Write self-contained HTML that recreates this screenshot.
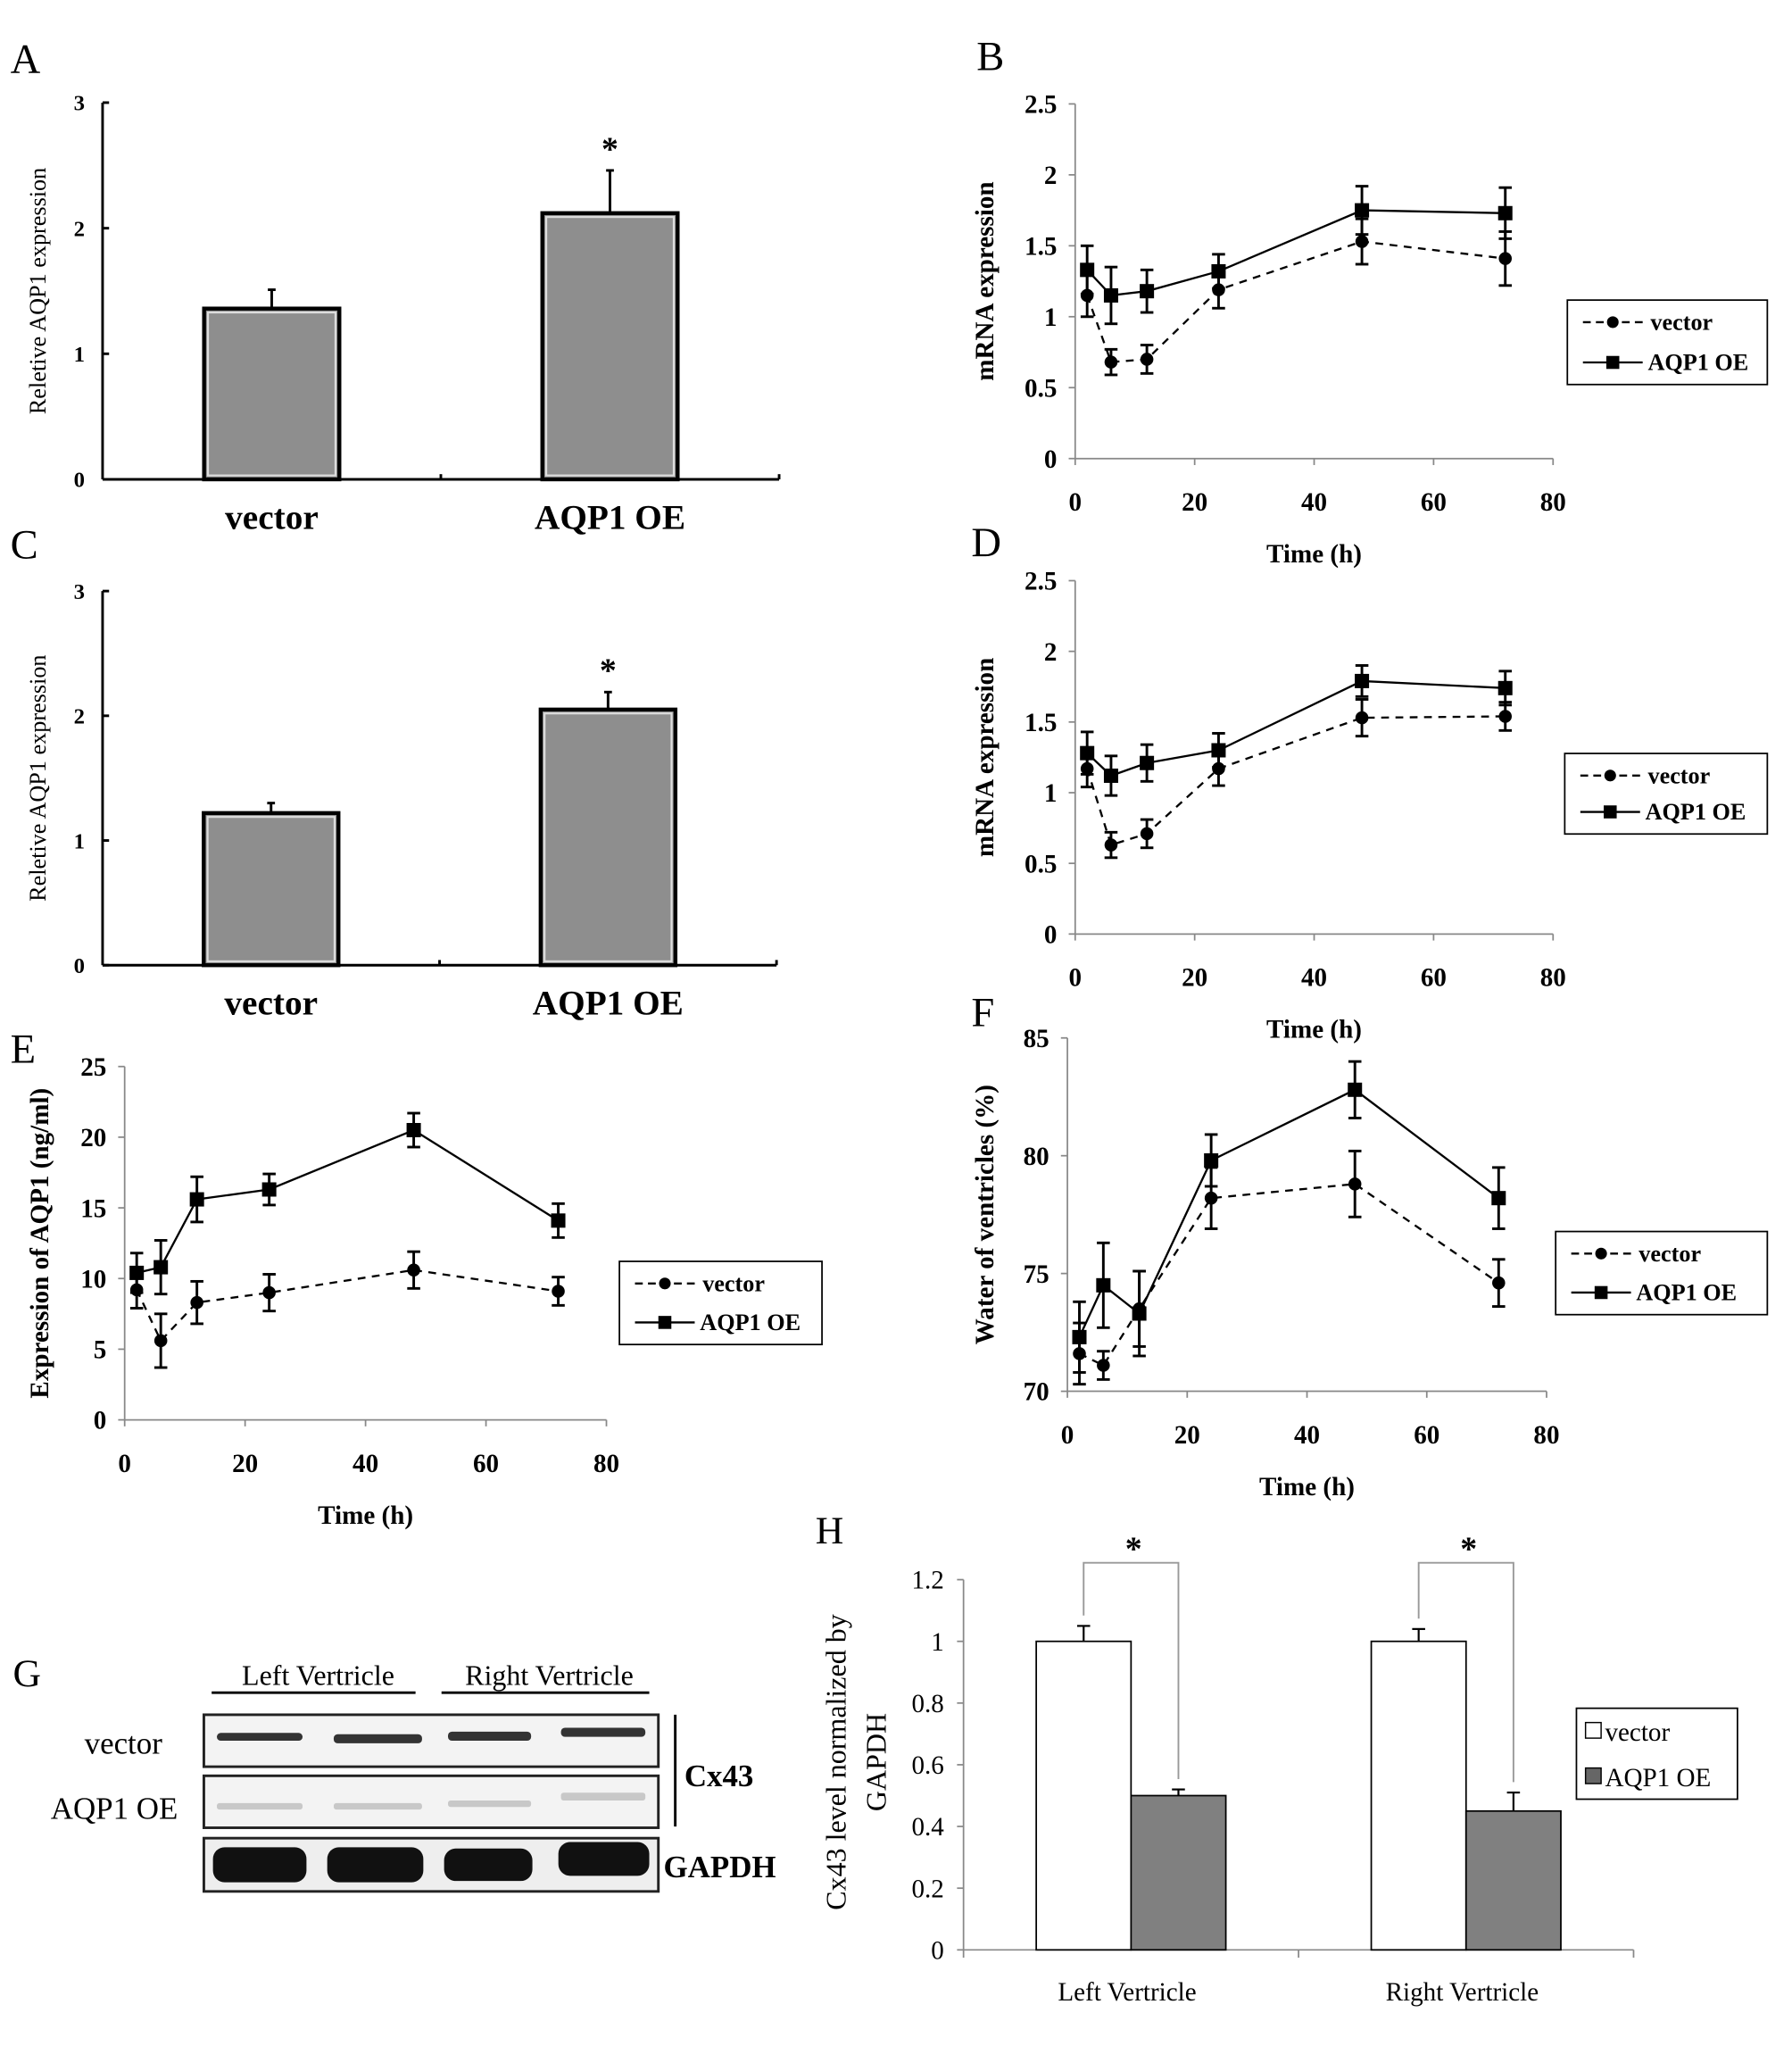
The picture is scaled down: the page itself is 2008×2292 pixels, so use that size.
<!DOCTYPE html>
<html><head><meta charset="utf-8"><style>
html,body{margin:0;padding:0;background:#fff;}
svg{display:block;font-family:"Liberation Serif",serif;}
</style></head><body>
<svg id="fig" width="2008" height="2292" viewBox="0 0 1380 1575" preserveAspectRatio="none" xmlns="http://www.w3.org/2000/svg">
<rect width="1380" height="1575" fill="#fff"/>
<!-- Panel G western blot -->
<g>
<text x="10" y="1298" font-size="30">G</text>
<text x="245" y="1297" font-size="22" text-anchor="middle">Left Vertricle</text>
<line x1="163" y1="1303" x2="320" y2="1303" stroke="#000" stroke-width="2"/>
<text x="423" y="1297" font-size="22" text-anchor="middle">Right Vertricle</text>
<line x1="340" y1="1303" x2="500" y2="1303" stroke="#000" stroke-width="2"/>
<text x="95" y="1350" font-size="24" text-anchor="middle">vector</text>
<text x="88" y="1400" font-size="24" text-anchor="middle">AQP1 OE</text>
<rect x="157" y="1320" width="350" height="40" fill="#f3f3f3" stroke="#222" stroke-width="2"/>
<rect x="157" y="1367" width="350" height="40" fill="#f3f3f3" stroke="#222" stroke-width="2"/>
<rect x="157" y="1415" width="350" height="41" fill="#eee" stroke="#222" stroke-width="2"/>
<g fill="#333">
<rect x="167" y="1334" width="66" height="6" rx="3"/><rect x="257" y="1335" width="68" height="7" rx="3"/>
<rect x="345" y="1333" width="64" height="7" rx="3"/><rect x="432" y="1330" width="65" height="7" rx="3"/>
</g>
<g fill="#c8c8c8">
<rect x="167" y="1388" width="66" height="5" rx="2"/><rect x="257" y="1388" width="68" height="5" rx="2"/>
<rect x="345" y="1386" width="64" height="5" rx="2"/><rect x="432" y="1380" width="65" height="6" rx="2"/>
</g>
<g fill="#111">
<rect x="164" y="1422" width="72" height="27" rx="9"/><rect x="252" y="1422" width="74" height="27" rx="9"/>
<rect x="342" y="1423" width="68" height="25" rx="9"/><rect x="430" y="1418" width="70" height="26" rx="9"/>
</g>
<line x1="520" y1="1320" x2="520" y2="1406" stroke="#000" stroke-width="2"/>
<text x="527" y="1375" font-size="24" font-weight="bold">Cx43</text>
<text x="511" y="1445" font-size="24" font-weight="bold">GAPDH</text>
</g>
</svg>
<script>
const NS="http://www.w3.org/2000/svg";
const svg=document.getElementById('fig');
function el(tag,attrs,parent,text){const e=document.createElementNS(NS,tag);for(const k in attrs)e.setAttribute(k,attrs[k]);if(text!==undefined)e.textContent=text;(parent||svg).appendChild(e);return e;}

// ---- Data ----
const barCats=["vector","AQP1 OE"];
const aVals=[1.36,2.12];
const aErr=[0.15,0.34];
const cVals=[1.22,2.05];
const cErr=[0.08,0.14];
const barTicks=[0,1,2,3];

const times=[2,6,12,24,48,72];
const timeTicks=[0,20,40,60,80];
const bVector=[1.15,0.68,0.70,1.19,1.53,1.41];
const bVectorErr=[0.15,0.09,0.10,0.13,0.16,0.19];
const bAqp=[1.33,1.15,1.18,1.32,1.75,1.73];
const bAqpErr=[0.17,0.20,0.15,0.12,0.17,0.18];
const dVector=[1.17,0.63,0.71,1.17,1.53,1.54];
const dVectorErr=[0.13,0.09,0.10,0.12,0.13,0.10];
const dAqp=[1.28,1.12,1.21,1.30,1.79,1.74];
const dAqpErr=[0.15,0.14,0.13,0.12,0.11,0.12];
const mrnaTicks=[0,0.5,1,1.5,2,2.5];
const eVector=[9.2,5.6,8.3,9.0,10.6,9.1];
const eVectorErr=[1.3,1.9,1.5,1.3,1.3,1.0];
const eAqp=[10.4,10.8,15.6,16.3,20.5,14.1];
const eAqpErr=[1.4,1.9,1.6,1.1,1.2,1.2];
const eTicks=[0,5,10,15,20,25];
const fVector=[71.6,71.1,73.5,78.2,78.8,74.6];
const fVectorErr=[1.3,0.6,1.6,1.3,1.4,1.0];
const fAqp=[72.3,74.5,73.3,79.8,82.8,78.2];
const fAqpErr=[1.5,1.8,1.8,1.1,1.2,1.3];
const fTicks=[70,75,80,85];

const hGroups=["Left Vertricle","Right Vertricle"];
const hVector=[1.0,1.0];
const hVectorErr=[0.05,0.04];
const hAqp=[0.50,0.45];
const hAqpErr=[0.02,0.06];
const hTicks=[0,0.2,0.4,0.6,0.8,1,1.2];

// ---- Bar panels A & C ----
function barPanel(cfg,vals,errs){
  const g=el('g',{});
  
  
  const y=v=>cfg.y0-(v-0)/(3)*(cfg.y0-cfg.yTop);
  const t=el('text',{x:8,y:cfg.labelY,'font-size':32},g,cfg.letter);
  
  el('line',{x1:cfg.x0,y1:cfg.yTop,x2:cfg.x0,y2:cfg.y0,stroke:'#000','stroke-width':2},g);
  el('line',{x1:cfg.x0,y1:cfg.y0,x2:cfg.x1,y2:cfg.y0,stroke:'#000','stroke-width':2},g);
  const mid=(cfg.x0+cfg.x1)/2;
  el('line',{x1:mid,y1:cfg.y0,x2:mid,y2:cfg.y0-4,stroke:'#000','stroke-width':2},g);
  el('line',{x1:cfg.x1,y1:cfg.y0,x2:cfg.x1,y2:cfg.y0-4,stroke:'#000','stroke-width':2},g);
  barTicks.forEach(v=>{
    el('line',{x1:cfg.x0,y1:y(v),x2:cfg.x0+5,y2:y(v),stroke:'#000','stroke-width':2},g);
    const tl=el('text',{x:cfg.x0-18,y:y(v)+6,'font-size':17,'font-weight':'bold','text-anchor':'middle'},g,String(v));
    
  });
  const w=(cfg.x1-cfg.x0)/2;
  vals.forEach((v,i)=>{
    const cx=cfg.x0+w*(i+0.5);
    const bw=w*0.4;
    const b=el('rect',{x:cx-bw/2,y:y(v),width:bw,height:cfg.y0-y(v),fill:'#8e8e8e',stroke:'#000','stroke-width':3},g);
    
    
    el('rect',{x:cx-bw/2+3,y:y(v)+3,width:bw-6,height:cfg.y0-y(v)-6,fill:'none',stroke:'#ddd','stroke-width':1.5},g);
    el('line',{x1:cx,y1:y(v),x2:cx,y2:y(v+errs[i]),stroke:'#000','stroke-width':2},g);
    el('line',{x1:cx-3,y1:y(v+errs[i]),x2:cx+3,y2:y(v+errs[i]),stroke:'#000','stroke-width':2},g);
    const lab=el('text',{x:cx,y:cfg.y0+38,'font-size':27,'font-weight':'bold','text-anchor':'middle'},g,barCats[i]);
    
    if(i===1){const s=el('text',{x:cx,y:y(v+errs[i])-8,'font-size':26,'font-weight':'bold','text-anchor':'middle'},g,'*');
      }
  });
  const yt=el('text',{x:0,y:0,'font-size':18,'text-anchor':'middle',transform:`translate(${cfg.x0-44},${(cfg.y0+cfg.yTop)/2}) rotate(-90)`},g,'Reletive AQP1 expression');
  
}
barPanel({name:'panel-a',letter:'A',labelY:56,x0:79,x1:600,y0:369,yTop:79},aVals,aErr);
barPanel({name:'panel-c',letter:'C',labelY:430,x0:79,x1:598,y0:743,yTop:455},cVals,cErr);

// ---- Line panels ----
function linePanel(cfg){
  const g=el('g',{});
  
  
  const xs=v=>cfg.x0+v/80*(cfg.x1-cfg.x0);
  const ys=v=>cfg.y0-(v-cfg.ymin)/(cfg.ymax-cfg.ymin)*(cfg.y0-cfg.yTop);
  const L=el('text',{x:cfg.lx,y:cfg.ly,'font-size':32},g,cfg.letter);
  
  el('line',{x1:cfg.x0,y1:cfg.yTop,x2:cfg.x0,y2:cfg.y0,stroke:'#888','stroke-width':1.2},g);
  el('line',{x1:cfg.x0,y1:cfg.y0,x2:cfg.x1,y2:cfg.y0,stroke:'#888','stroke-width':1.2},g);
  cfg.yticks.forEach(v=>{
    el('line',{x1:cfg.x0-5,y1:ys(v),x2:cfg.x0,y2:ys(v),stroke:'#888','stroke-width':1.2},g);
    const t=el('text',{x:cfg.x0-14,y:ys(v)+7,'font-size':20,'font-weight':'bold','text-anchor':'end'},g,String(v));
    
  });
  timeTicks.forEach(v=>{
    el('line',{x1:xs(v),y1:cfg.y0,x2:xs(v),y2:cfg.y0+5,stroke:'#888','stroke-width':1.2},g);
    const t=el('text',{x:xs(v),y:cfg.y0+40,'font-size':20,'font-weight':'bold','text-anchor':'middle'},g,String(v));
    
  });
  const xt=el('text',{x:(cfg.x0+cfg.x1)/2,y:cfg.y0+80,'font-size':20,'font-weight':'bold','text-anchor':'middle'},g,'Time (h)');
  
  const yt=el('text',{x:0,y:0,'font-size':20,'font-weight':'bold','text-anchor':'middle',transform:`translate(${cfg.ytx},${(cfg.y0+cfg.yTop)/2}) rotate(-90)`},g,cfg.ytitle);
  
  function series(vals,errs,dash,marker,nm){
    const sg=el('g',{},g);
    
    vals.forEach((v,i)=>{
      const x=xs(times[i]);
      el('line',{x1:x,y1:ys(v-errs[i]),x2:x,y2:ys(v+errs[i]),stroke:'#000','stroke-width':2},sg);
      el('line',{x1:x-5,y1:ys(v-errs[i]),x2:x+5,y2:ys(v-errs[i]),stroke:'#000','stroke-width':2},sg);
      el('line',{x1:x-5,y1:ys(v+errs[i]),x2:x+5,y2:ys(v+errs[i]),stroke:'#000','stroke-width':2},sg);
    });
    el('polyline',{points:vals.map((v,i)=>xs(times[i])+','+ys(v)).join(' '),fill:'none',stroke:'#000','stroke-width':1.6,'stroke-dasharray':dash?'6,5':'none'},sg);
    vals.forEach((v,i)=>{
      const x=xs(times[i]),y=ys(v);
      let m;
      if(marker==='c') m=el('circle',{cx:x,cy:y,r:5,fill:'#000'},sg);
      else m=el('rect',{x:x-5.5,y:y-5.5,width:11,height:11,fill:'#000'},sg);
      
    });
  }
  series(cfg.v,cfg.ve,true,'c','series-vector');
  series(cfg.a,cfg.ae,false,'s','series-aqp1-oe');
  const lg=el('g',{},g);
  
  const [lx,ly,lw,lh]=cfg.legend;
  el('rect',{x:lx,y:ly,width:lw,height:lh,fill:'#fff',stroke:'#000','stroke-width':1.2},lg);
  el('line',{x1:lx+12,y1:ly+17,x2:lx+58,y2:ly+17,stroke:'#000','stroke-width':1.6,'stroke-dasharray':'6,4'},lg);
  el('circle',{cx:lx+35,cy:ly+17,r:4.5,fill:'#000'},lg);
  const t1=el('text',{x:lx+64,y:ly+23,'font-size':18,'font-weight':'bold'},lg,'vector');
  
  el('line',{x1:lx+12,y1:ly+lh-17,x2:lx+58,y2:ly+lh-17,stroke:'#000','stroke-width':1.6},lg);
  el('rect',{x:lx+30,y:ly+lh-22,width:10,height:10,fill:'#000'},lg);
  const t2=el('text',{x:lx+62,y:ly+lh-11,'font-size':18,'font-weight':'bold'},lg,'AQP1 OE');
  
}
linePanel({name:'panel-b',letter:'B',lx:752,ly:54,x0:828,x1:1196,y0:353,yTop:80,ymin:0,ymax:2.5,yticks:mrnaTicks,ytx:765,ytitle:'mRNA expression',v:bVector,ve:bVectorErr,a:bAqp,ae:bAqpErr,legend:[1207,231,154,65]});
linePanel({name:'panel-d',letter:'D',lx:748,ly:428,x0:828,x1:1196,y0:719,yTop:447,ymin:0,ymax:2.5,yticks:mrnaTicks,ytx:765,ytitle:'mRNA expression',v:dVector,ve:dVectorErr,a:dAqp,ae:dAqpErr,legend:[1205,580,156,62]});
linePanel({name:'panel-e',letter:'E',lx:8,ly:818,x0:96,x1:467,y0:1093,yTop:821,ymin:0,ymax:25,yticks:eTicks,ytx:37,ytitle:'Expression of AQP1 (ng/ml)',v:eVector,ve:eVectorErr,a:eAqp,ae:eAqpErr,legend:[477,971,156,64]});
linePanel({name:'panel-f',letter:'F',lx:748,ly:790,x0:822,x1:1191,y0:1071,yTop:799,ymin:70,ymax:85,yticks:fTicks,ytx:765,ytitle:'Water of ventricles (%)',v:fVector,ve:fVectorErr,a:fAqp,ae:fAqpErr,legend:[1198,948,163,64]});

// ---- Panel H ----
(function(){
  const g=el('g',{});
  
  
  const x0=742,x1=1258,y0=1501,yTop=1216;
  const ys=v=>y0-v/1.2*(y0-yTop);
  const L=el('text',{x:628,y:1188,'font-size':30},g,'H');
  
  el('line',{x1:x0,y1:yTop,x2:x0,y2:y0,stroke:'#888','stroke-width':1.2},g);
  el('line',{x1:x0,y1:y0,x2:x1,y2:y0,stroke:'#888','stroke-width':1.2},g);
  const mid=(x0+x1)/2;
  [x0,mid,x1].forEach(x=>el('line',{x1:x,y1:y0,x2:x,y2:y0+6,stroke:'#888','stroke-width':1.2},g));
  hTicks.forEach(v=>{
    el('line',{x1:x0-5,y1:ys(v),x2:x0,y2:ys(v),stroke:'#888','stroke-width':1.2},g);
    const t=el('text',{x:x0-15,y:ys(v)+7,'font-size':20,'text-anchor':'end'},g,String(v));
    
  });
  const gw=(x1-x0)/2, bw=73;
  hGroups.forEach((name,i)=>{
    const c=x0+gw*(i+0.5);
    const v=hVector[i],a=hAqp[i];
    const b1=el('rect',{x:c-bw,y:ys(v),width:bw,height:y0-ys(v),fill:'#fff',stroke:'#000','stroke-width':1.2},g);
    
    const b2=el('rect',{x:c,y:ys(a),width:bw,height:y0-ys(a),fill:'#808080',stroke:'#000','stroke-width':1.2},g);
    
    [[c-bw/2,v,hVectorErr[i]],[c+bw/2,a,hAqpErr[i]]].forEach(([x,val,e])=>{
      el('line',{x1:x,y1:ys(val),x2:x,y2:ys(val+e),stroke:'#000','stroke-width':1.5},g);
      el('line',{x1:x-5,y1:ys(val+e),x2:x+5,y2:ys(val+e),stroke:'#000','stroke-width':1.5},g);
    });
    const by=1203;
    el('polyline',{points:`${c-bw/2},${ys(v+hVectorErr[i])-8} ${c-bw/2},${by} ${c+bw/2},${by} ${c+bw/2},${ys(a+hAqpErr[i])-8}`,fill:'none',stroke:'#999','stroke-width':1.3},g);
    const s=el('text',{x:c+2,y:by-2,'font-size':26,'font-weight':'bold','text-anchor':'middle'},g,'*');
    
    const t=el('text',{x:c-3,y:1540,'font-size':20,'text-anchor':'middle'},g,name);
    
  });
  const y1=el('text',{x:0,y:0,'font-size':22,'text-anchor':'middle',transform:`translate(651,${(y0+yTop)/2-2}) rotate(-90)`},g,'Cx43 level normalized by');
  
  const y2=el('text',{x:0,y:0,'font-size':22,'text-anchor':'middle',transform:`translate(682,${(y0+yTop)/2-2}) rotate(-90)`},g,'GAPDH');
  
  const lg=el('g',{},g);
  
  el('rect',{x:1214,y:1315,width:124,height:70,fill:'#fff',stroke:'#000','stroke-width':1.2},lg);
  el('rect',{x:1221,y:1326,width:12,height:12,fill:'#fff',stroke:'#000','stroke-width':1},lg);
  const a=el('text',{x:1236,y:1340,'font-size':20},lg,'vector');
  
  el('rect',{x:1221,y:1361,width:12,height:12,fill:'#666',stroke:'#000','stroke-width':1},lg);
  const b=el('text',{x:1236,y:1375,'font-size':20},lg,'AQP1 OE');
  
})();
</script>
</body></html>
